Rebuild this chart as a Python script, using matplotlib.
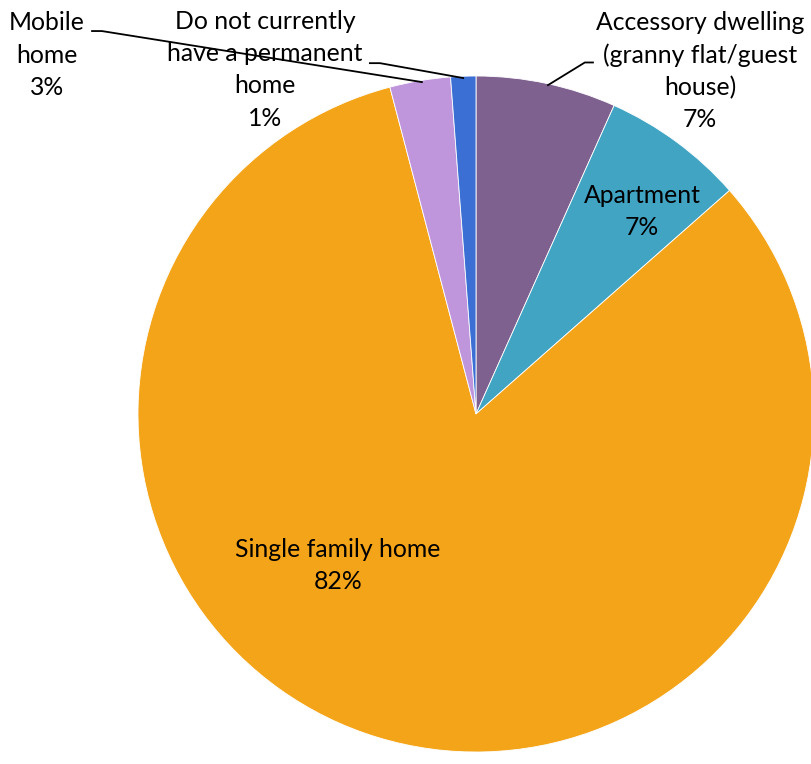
import matplotlib
matplotlib.use("Agg")
import matplotlib.pyplot as plt

# slices, clockwise from 12 o'clock
labels = ["Accessory dwelling\n(granny flat/guest\nhouse)", "Apartment",
          "Single family home", "Mobile\nhome",
          "Do not currently\nhave a permanent\nhome"]
values = [6.7, 6.8, 82.4, 2.9, 1.2]
shown_pct = ["7%", "7%", "82%", "3%", "1%"]
colors = ["#7F6190", "#41A4C3", "#F4A418", "#BF96DC", "#3B6FD4"]

# label centres (data units, radius = 1) and leader lines
label_pos = [(0.663, 1.015), (0.491, 0.598), (-0.408, -0.447),
             (-1.269, 1.062), (-0.624, 1.018)]
leaders = {
    0: [(0.346, 1.040), (0.322, 1.040), (0.213, 0.973)],
    3: [(-1.136, 1.133), (-1.107, 1.133), (-0.160, 0.982)],
    4: [(-0.314, 1.038), (-0.284, 1.038), (-0.038, 0.994)],
}

fig = plt.figure(figsize=(8.11, 7.64), dpi=100)
ax = fig.add_axes([0, 0, 1, 1])
ax.pie(values, colors=colors, startangle=90, counterclock=False, radius=1.0,
       wedgeprops=dict(linewidth=0.6, edgecolor="white"))
ax.set_xlim(-476 / 338, (811 - 476) / 338)
ax.set_ylim(-(764 - 414) / 338, 414 / 338)
ax.set_aspect("auto")
ax.axis("off")

for i, (lab, pct) in enumerate(zip(labels, shown_pct)):
    x, y = label_pos[i]
    ax.text(x, y, lab + "\n" + pct, ha="center", va="center", fontsize=17.8,
            family="Lato", color="black", linespacing=1.48)

for i, pts in leaders.items():
    xs, ys = zip(*pts)
    ax.plot(xs, ys, color="black", lw=1.3, clip_on=False)

fig.savefig("out.png", dpi=100)
